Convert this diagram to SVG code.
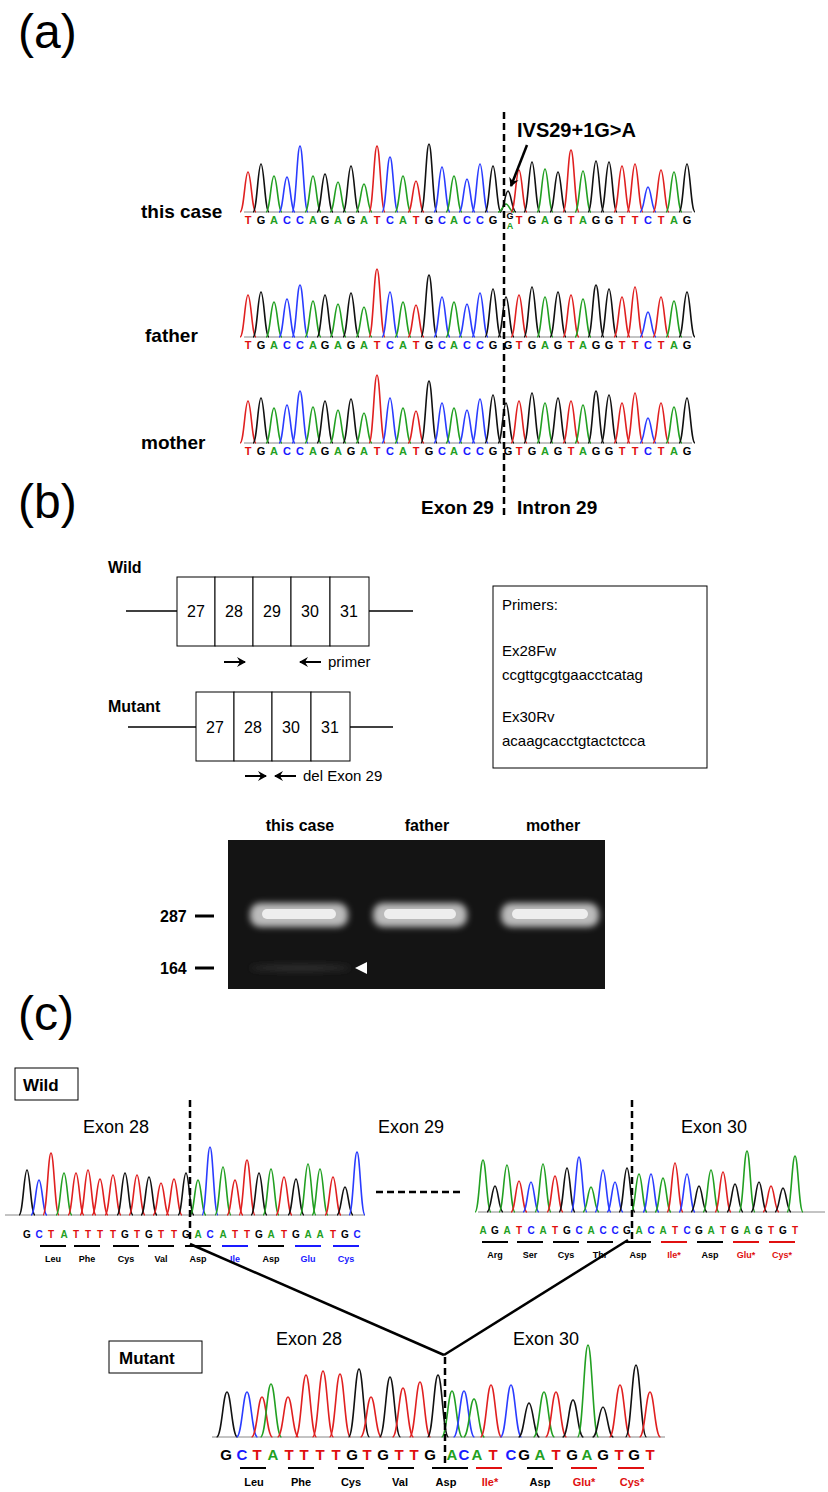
<svg xmlns="http://www.w3.org/2000/svg" xmlns:xlink="http://www.w3.org/1999/xlink" width="828" height="1492" viewBox="0 0 828 1492">
<style>
text{font-family:"Liberation Sans",Arial,sans-serif}
.A{stroke:#22a022}.C{stroke:#2a3cff}.G{stroke:#111}.T{stroke:#e02020}
.pk use{fill:none;stroke-width:1.6}
.tA{fill:#22a022}.tC{fill:#1a1aff}.tG{fill:#000}.tT{fill:#e01010}
.seq{font-size:11px;font-weight:bold;text-anchor:middle}
.seqc{font-size:10px;font-weight:bold;text-anchor:middle}
.seqm{font-size:15px;font-weight:bold;text-anchor:middle}
.aa{font-size:9px;font-weight:bold;text-anchor:middle}
.aam{font-size:11px;font-weight:bold;text-anchor:middle}
.lab{font-size:19px;font-weight:bold}
.pl{font-size:48px}
.ex{font-size:18px}
.bx{fill:#fff;stroke:#000;stroke-width:1}
.dash{stroke:#000;stroke-width:2.5;stroke-dasharray:7 4;fill:none}
.base{stroke:#888;stroke-width:1}
.ulk{stroke:#000;stroke-width:2}.ulb{stroke:#1a1aff;stroke-width:2}.ulr{stroke:#e01010;stroke-width:2}
</style>
<defs>
<path id="p" d="M-8 0 C-4 0 -3 -1 0 -1 C3 -1 4 0 8 0" vector-effect="non-scaling-stroke"/>
<marker id="ah" markerWidth="10" markerHeight="10" refX="8" refY="5" orient="auto" markerUnits="userSpaceOnUse"><path d="M0 0 L9 5 L0 10 L3 5 Z" fill="#000"/></marker>
<g id="par" class="pk">
<use href="#p" class="T" transform="translate(248,0) scale(1,42)"/><use href="#p" class="G" transform="translate(261,0) scale(1,45)"/><use href="#p" class="A" transform="translate(274,0) scale(1,35)"/><use href="#p" class="C" transform="translate(287,0) scale(1,38)"/><use href="#p" class="C" transform="translate(300,0) scale(1,52)"/><use href="#p" class="A" transform="translate(313,0) scale(1,36)"/><use href="#p" class="G" transform="translate(325,0) scale(1,42)"/><use href="#p" class="A" transform="translate(338,0) scale(1,33)"/><use href="#p" class="G" transform="translate(351,0) scale(1,44)"/><use href="#p" class="A" transform="translate(364,0) scale(1,30)"/><use href="#p" class="T" transform="translate(377,0) scale(1,68)"/><use href="#p" class="C" transform="translate(390,0) scale(1,45)"/><use href="#p" class="A" transform="translate(403,0) scale(1,35)"/><use href="#p" class="T" transform="translate(416,0) scale(1,32)"/><use href="#p" class="G" transform="translate(429,0) scale(1,62)"/><use href="#p" class="C" transform="translate(442,0) scale(1,40)"/><use href="#p" class="A" transform="translate(454,0) scale(1,35)"/><use href="#p" class="C" transform="translate(467,0) scale(1,33)"/><use href="#p" class="C" transform="translate(480,0) scale(1,44)"/><use href="#p" class="G" transform="translate(493,0) scale(1,48)"/><use href="#p" class="G" transform="translate(506,0) scale(1,40)"/><use href="#p" class="T" transform="translate(519,0) scale(1,42)"/><use href="#p" class="G" transform="translate(532,0) scale(1,50)"/><use href="#p" class="A" transform="translate(545,0) scale(1,40)"/><use href="#p" class="G" transform="translate(558,0) scale(1,45)"/><use href="#p" class="T" transform="translate(571,0) scale(1,42)"/><use href="#p" class="A" transform="translate(583,0) scale(1,38)"/><use href="#p" class="G" transform="translate(596,0) scale(1,52)"/><use href="#p" class="G" transform="translate(609,0) scale(1,48)"/><use href="#p" class="T" transform="translate(622,0) scale(1,40)"/><use href="#p" class="T" transform="translate(635,0) scale(1,50)"/><use href="#p" class="C" transform="translate(648,0) scale(1,25)"/><use href="#p" class="T" transform="translate(661,0) scale(1,40)"/><use href="#p" class="A" transform="translate(674,0) scale(1,36)"/><use href="#p" class="G" transform="translate(687,0) scale(1,45)"/>
</g>
</defs>

<text x="18" y="48" class="pl">(a)</text>
<text x="18" y="518" class="pl">(b)</text>
<text x="18" y="1030" class="pl">(c)</text>

<g id="a-thiscase">
<text x="141" y="218" class="lab">this case</text>
<line x1="244" y1="212" x2="692" y2="212" class="base"/>
<g class="pk" transform="translate(0,212)">
<use href="#p" class="T" transform="translate(248,0) scale(1,40)"/><use href="#p" class="G" transform="translate(261,0) scale(1,48)"/><use href="#p" class="A" transform="translate(274,0) scale(1,36)"/><use href="#p" class="C" transform="translate(287,0) scale(1,35)"/><use href="#p" class="C" transform="translate(300,0) scale(1,66)"/><use href="#p" class="A" transform="translate(313,0) scale(1,36)"/><use href="#p" class="G" transform="translate(325,0) scale(1,38)"/><use href="#p" class="A" transform="translate(338,0) scale(1,30)"/><use href="#p" class="G" transform="translate(351,0) scale(1,46)"/><use href="#p" class="A" transform="translate(364,0) scale(1,28)"/><use href="#p" class="T" transform="translate(377,0) scale(1,66)"/><use href="#p" class="C" transform="translate(390,0) scale(1,55)"/><use href="#p" class="A" transform="translate(403,0) scale(1,36)"/><use href="#p" class="T" transform="translate(416,0) scale(1,31)"/><use href="#p" class="G" transform="translate(429,0) scale(1,68)"/><use href="#p" class="C" transform="translate(442,0) scale(1,45)"/><use href="#p" class="A" transform="translate(454,0) scale(1,36)"/><use href="#p" class="C" transform="translate(467,0) scale(1,33)"/><use href="#p" class="C" transform="translate(480,0) scale(1,48)"/><use href="#p" class="G" transform="translate(493,0) scale(1,46)"/><use href="#p" class="G" transform="translate(508,0) scale(1,21)"/><use href="#p" class="A" transform="translate(506,0) scale(1,8)"/><use href="#p" class="T" transform="translate(519,0) scale(1,42)"/><use href="#p" class="G" transform="translate(532,0) scale(1,50)"/><use href="#p" class="A" transform="translate(545,0) scale(1,43)"/><use href="#p" class="G" transform="translate(558,0) scale(1,40)"/><use href="#p" class="T" transform="translate(571,0) scale(1,62)"/><use href="#p" class="A" transform="translate(583,0) scale(1,41)"/><use href="#p" class="G" transform="translate(596,0) scale(1,51)"/><use href="#p" class="G" transform="translate(609,0) scale(1,50)"/><use href="#p" class="T" transform="translate(622,0) scale(1,46)"/><use href="#p" class="T" transform="translate(635,0) scale(1,48)"/><use href="#p" class="C" transform="translate(648,0) scale(1,25)"/><use href="#p" class="T" transform="translate(661,0) scale(1,42)"/><use href="#p" class="A" transform="translate(674,0) scale(1,40)"/><use href="#p" class="G" transform="translate(687,0) scale(1,48)"/>
</g>
<text y="224" class="seq"><tspan x="248" class="tT">T</tspan><tspan x="261" class="tG">G</tspan><tspan x="274" class="tA">A</tspan><tspan x="287" class="tC">C</tspan><tspan x="300" class="tC">C</tspan><tspan x="313" class="tA">A</tspan><tspan x="325" class="tG">G</tspan><tspan x="338" class="tA">A</tspan><tspan x="351" class="tG">G</tspan><tspan x="364" class="tA">A</tspan><tspan x="377" class="tT">T</tspan><tspan x="390" class="tC">C</tspan><tspan x="403" class="tA">A</tspan><tspan x="416" class="tT">T</tspan><tspan x="429" class="tG">G</tspan><tspan x="442" class="tC">C</tspan><tspan x="454" class="tA">A</tspan><tspan x="467" class="tC">C</tspan><tspan x="480" class="tC">C</tspan><tspan x="493" class="tG">G</tspan><tspan x="519" class="tT">T</tspan><tspan x="532" class="tG">G</tspan><tspan x="545" class="tA">A</tspan><tspan x="558" class="tG">G</tspan><tspan x="571" class="tT">T</tspan><tspan x="583" class="tA">A</tspan><tspan x="596" class="tG">G</tspan><tspan x="609" class="tG">G</tspan><tspan x="622" class="tT">T</tspan><tspan x="635" class="tT">T</tspan><tspan x="648" class="tC">C</tspan><tspan x="661" class="tT">T</tspan><tspan x="674" class="tA">A</tspan><tspan x="687" class="tG">G</tspan></text>
<text x="510" y="219" class="tG" style="font-size:9px;font-weight:bold;text-anchor:middle">G</text>
<text x="510" y="229" class="tA" style="font-size:9px;font-weight:bold;text-anchor:middle">A</text>
</g>
<g id="a-father">
<text x="145" y="342" class="lab">father</text>
<line x1="244" y1="337" x2="692" y2="337" class="base"/>
<use href="#par" transform="translate(0,337)"/>
<text y="349" class="seq"><tspan x="248" class="tT">T</tspan><tspan x="261" class="tG">G</tspan><tspan x="274" class="tA">A</tspan><tspan x="287" class="tC">C</tspan><tspan x="300" class="tC">C</tspan><tspan x="313" class="tA">A</tspan><tspan x="325" class="tG">G</tspan><tspan x="338" class="tA">A</tspan><tspan x="351" class="tG">G</tspan><tspan x="364" class="tA">A</tspan><tspan x="377" class="tT">T</tspan><tspan x="390" class="tC">C</tspan><tspan x="403" class="tA">A</tspan><tspan x="416" class="tT">T</tspan><tspan x="429" class="tG">G</tspan><tspan x="442" class="tC">C</tspan><tspan x="454" class="tA">A</tspan><tspan x="467" class="tC">C</tspan><tspan x="480" class="tC">C</tspan><tspan x="493" class="tG">G</tspan><tspan x="508" class="tG">G</tspan><tspan x="519" class="tT">T</tspan><tspan x="532" class="tG">G</tspan><tspan x="545" class="tA">A</tspan><tspan x="558" class="tG">G</tspan><tspan x="571" class="tT">T</tspan><tspan x="583" class="tA">A</tspan><tspan x="596" class="tG">G</tspan><tspan x="609" class="tG">G</tspan><tspan x="622" class="tT">T</tspan><tspan x="635" class="tT">T</tspan><tspan x="648" class="tC">C</tspan><tspan x="661" class="tT">T</tspan><tspan x="674" class="tA">A</tspan><tspan x="687" class="tG">G</tspan></text>
</g>
<g id="a-mother">
<text x="141" y="449" class="lab">mother</text>
<line x1="244" y1="443" x2="692" y2="443" class="base"/>
<use href="#par" transform="translate(0,443)"/>
<text y="455" class="seq"><tspan x="248" class="tT">T</tspan><tspan x="261" class="tG">G</tspan><tspan x="274" class="tA">A</tspan><tspan x="287" class="tC">C</tspan><tspan x="300" class="tC">C</tspan><tspan x="313" class="tA">A</tspan><tspan x="325" class="tG">G</tspan><tspan x="338" class="tA">A</tspan><tspan x="351" class="tG">G</tspan><tspan x="364" class="tA">A</tspan><tspan x="377" class="tT">T</tspan><tspan x="390" class="tC">C</tspan><tspan x="403" class="tA">A</tspan><tspan x="416" class="tT">T</tspan><tspan x="429" class="tG">G</tspan><tspan x="442" class="tC">C</tspan><tspan x="454" class="tA">A</tspan><tspan x="467" class="tC">C</tspan><tspan x="480" class="tC">C</tspan><tspan x="493" class="tG">G</tspan><tspan x="508" class="tG">G</tspan><tspan x="519" class="tT">T</tspan><tspan x="532" class="tG">G</tspan><tspan x="545" class="tA">A</tspan><tspan x="558" class="tG">G</tspan><tspan x="571" class="tT">T</tspan><tspan x="583" class="tA">A</tspan><tspan x="596" class="tG">G</tspan><tspan x="609" class="tG">G</tspan><tspan x="622" class="tT">T</tspan><tspan x="635" class="tT">T</tspan><tspan x="648" class="tC">C</tspan><tspan x="661" class="tT">T</tspan><tspan x="674" class="tA">A</tspan><tspan x="687" class="tG">G</tspan></text>
</g>
<g id="a-annot">
<line x1="504" y1="112" x2="504" y2="516" class="dash"/>
<text x="517" y="137" style="font-size:20px;font-weight:bold">IVS29+1G&gt;A</text>
<line x1="527" y1="145" x2="511" y2="186" stroke="#000" stroke-width="2.5" marker-end="url(#ah)"/>
<text x="421" y="514" class="lab">Exon 29</text>
<text x="517" y="514" class="lab">Intron 29</text>
</g>

<g id="b-wild">
<text x="108" y="573" style="font-size:16px;font-weight:bold">Wild</text>
<line x1="126" y1="611" x2="413" y2="611" stroke="#000" stroke-width="1.5"/>
<rect x="177" y="577" width="38" height="69" class="bx"/><rect x="215" y="577" width="38" height="69" class="bx"/><rect x="253" y="577" width="38" height="69" class="bx"/><rect x="291" y="577" width="39" height="69" class="bx"/><rect x="330" y="577" width="39" height="69" class="bx"/>
<g style="font-size:16px;text-anchor:middle"><text x="196" y="617">27</text><text x="234" y="617">28</text><text x="272" y="617">29</text><text x="310" y="617">30</text><text x="349" y="617">31</text></g>
<line x1="224" y1="662" x2="245" y2="662" stroke="#000" stroke-width="2" marker-end="url(#ah)"/>
<line x1="321" y1="662" x2="300" y2="662" stroke="#000" stroke-width="2" marker-end="url(#ah)"/>
<text x="328" y="667" style="font-size:15px">primer</text>
</g>
<g id="b-mutant">
<text x="108" y="712" style="font-size:16px;font-weight:bold">Mutant</text>
<line x1="128" y1="727" x2="393" y2="727" stroke="#000" stroke-width="1.5"/>
<rect x="196" y="692" width="38" height="69" class="bx"/><rect x="234" y="692" width="38" height="69" class="bx"/><rect x="272" y="692" width="39" height="69" class="bx"/><rect x="311" y="692" width="39" height="69" class="bx"/>
<g style="font-size:16px;text-anchor:middle"><text x="215" y="733">27</text><text x="253" y="733">28</text><text x="291" y="733">30</text><text x="330" y="733">31</text></g>
<line x1="245" y1="776" x2="266" y2="776" stroke="#000" stroke-width="2" marker-end="url(#ah)"/>
<line x1="296" y1="776" x2="275" y2="776" stroke="#000" stroke-width="2" marker-end="url(#ah)"/>
<text x="303" y="781" style="font-size:15px">del Exon 29</text>
</g>
<g id="b-primers">
<rect x="493" y="586" width="214" height="182" class="bx"/>
<g style="font-size:15px"><text x="502" y="610">Primers:</text><text x="502" y="656">Ex28Fw</text><text x="502" y="680">ccgttgcgtgaacctcatag</text><text x="502" y="722">Ex30Rv</text><text x="502" y="746">acaagcacctgtactctcca</text></g>
</g>
<g id="b-gel">
<defs><filter id="bl" x="-20%" y="-80%" width="140%" height="260%"><feGaussianBlur stdDeviation="3"/></filter></defs>
<rect x="228" y="840" width="377" height="149" fill="#141414"/>
<g filter="url(#bl)"><rect x="250" y="903" width="98" height="24" rx="10" fill="#bbb"/><rect x="373" y="903" width="94" height="24" rx="10" fill="#bbb"/><rect x="501" y="903" width="98" height="24" rx="10" fill="#bbb"/></g>
<g fill="#eee"><rect x="262" y="909" width="74" height="10" rx="5"/><rect x="384" y="909" width="72" height="10" rx="5"/><rect x="512" y="909" width="76" height="10" rx="5"/></g>
<ellipse cx="300" cy="968" rx="50" ry="3" fill="#333" filter="url(#bl)"/>
<path d="M355 968 L367 962 L367 974 Z" fill="#fff"/>
<g style="font-size:16px;font-weight:bold;text-anchor:middle"><text x="300" y="831">this case</text><text x="427" y="831">father</text><text x="553" y="831">mother</text></g>
<g style="font-size:16px;font-weight:bold"><text x="160" y="922">287</text><text x="160" y="974">164</text></g>
<line x1="195" y1="916" x2="214" y2="916" stroke="#000" stroke-width="3"/>
<line x1="195" y1="968" x2="214" y2="968" stroke="#000" stroke-width="3"/>
</g>

<g id="c-wildlabel"><rect x="15" y="1068" width="63" height="32" class="bx"/><text x="23" y="1091" style="font-size:17px;font-weight:bold">Wild</text></g>
<g id="c-exonlabels"><text x="83" y="1133" class="ex">Exon 28</text><text x="378" y="1133" class="ex">Exon 29</text><text x="681" y="1133" class="ex">Exon 30</text></g>
<g id="c-wildleft">
<line x1="5" y1="1215" x2="365" y2="1215" class="base"/>
<g class="pk" transform="translate(0,1215)">
<use href="#p" class="G" transform="translate(27,0) scale(1,45)"/><use href="#p" class="C" transform="translate(39,0) scale(1,35)"/><use href="#p" class="T" transform="translate(51,0) scale(1,62)"/><use href="#p" class="A" transform="translate(64,0) scale(1,42)"/><use href="#p" class="T" transform="translate(76,0) scale(1,42)"/><use href="#p" class="T" transform="translate(88,0) scale(1,45)"/><use href="#p" class="T" transform="translate(100,0) scale(1,36)"/><use href="#p" class="T" transform="translate(113,0) scale(1,40)"/><use href="#p" class="G" transform="translate(125,0) scale(1,42)"/><use href="#p" class="T" transform="translate(137,0) scale(1,40)"/><use href="#p" class="G" transform="translate(149,0) scale(1,38)"/><use href="#p" class="T" transform="translate(161,0) scale(1,32)"/><use href="#p" class="T" transform="translate(174,0) scale(1,36)"/><use href="#p" class="G" transform="translate(186,0) scale(1,42)"/><use href="#p" class="A" transform="translate(198,0) scale(1,35)"/><use href="#p" class="C" transform="translate(210,0) scale(1,68)"/><use href="#p" class="A" transform="translate(223,0) scale(1,48)"/><use href="#p" class="T" transform="translate(235,0) scale(1,35)"/><use href="#p" class="T" transform="translate(247,0) scale(1,55)"/><use href="#p" class="G" transform="translate(259,0) scale(1,42)"/><use href="#p" class="A" transform="translate(271,0) scale(1,46)"/><use href="#p" class="T" transform="translate(284,0) scale(1,38)"/><use href="#p" class="G" transform="translate(296,0) scale(1,36)"/><use href="#p" class="A" transform="translate(308,0) scale(1,51)"/><use href="#p" class="A" transform="translate(320,0) scale(1,46)"/><use href="#p" class="T" transform="translate(333,0) scale(1,38)"/><use href="#p" class="G" transform="translate(345,0) scale(1,28)"/><use href="#p" class="C" transform="translate(357,0) scale(1,63)"/>
</g>
<text y="1238" class="seqc"><tspan x="27" class="tG">G</tspan><tspan x="39" class="tC">C</tspan><tspan x="51" class="tT">T</tspan><tspan x="64" class="tA">A</tspan><tspan x="76" class="tT">T</tspan><tspan x="88" class="tT">T</tspan><tspan x="100" class="tT">T</tspan><tspan x="113" class="tT">T</tspan><tspan x="125" class="tG">G</tspan><tspan x="137" class="tT">T</tspan><tspan x="149" class="tG">G</tspan><tspan x="161" class="tT">T</tspan><tspan x="174" class="tT">T</tspan><tspan x="186" class="tG">G</tspan><tspan x="198" class="tA">A</tspan><tspan x="210" class="tC">C</tspan><tspan x="223" class="tA">A</tspan><tspan x="235" class="tT">T</tspan><tspan x="247" class="tT">T</tspan><tspan x="259" class="tG">G</tspan><tspan x="271" class="tA">A</tspan><tspan x="284" class="tT">T</tspan><tspan x="296" class="tG">G</tspan><tspan x="308" class="tA">A</tspan><tspan x="320" class="tA">A</tspan><tspan x="333" class="tT">T</tspan><tspan x="345" class="tG">G</tspan><tspan x="357" class="tC">C</tspan></text>
<line x1="40" y1="1246" x2="66" y2="1246" class="ulk"/><line x1="74" y1="1246" x2="100" y2="1246" class="ulk"/><line x1="113" y1="1246" x2="139" y2="1246" class="ulk"/><line x1="148" y1="1246" x2="174" y2="1246" class="ulk"/><line x1="185" y1="1246" x2="211" y2="1246" class="ulk"/><line x1="222" y1="1246" x2="248" y2="1246" class="ulb"/><line x1="258" y1="1246" x2="284" y2="1246" class="ulk"/><line x1="295" y1="1246" x2="321" y2="1246" class="ulb"/><line x1="333" y1="1246" x2="359" y2="1246" class="ulb"/>
<text y="1262" class="aa"><tspan x="53" class="tG">Leu</tspan><tspan x="87" class="tG">Phe</tspan><tspan x="126" class="tG">Cys</tspan><tspan x="161" class="tG">Val</tspan><tspan x="198" class="tG">Asp</tspan><tspan x="235" class="tC">Ile</tspan><tspan x="271" class="tG">Asp</tspan><tspan x="308" class="tC">Glu</tspan><tspan x="346" class="tC">Cys</tspan></text>
<line x1="190" y1="1100" x2="190" y2="1242" class="dash"/>
</g>
<line x1="376" y1="1192" x2="460" y2="1192" class="dash" id="c-gap"/>
<g id="c-wildright">
<line x1="478" y1="1212" x2="825" y2="1212" class="base"/>
<g class="pk" transform="translate(0,1212)">
<use href="#p" class="A" transform="translate(483,0) scale(1,52)"/><use href="#p" class="G" transform="translate(495,0) scale(1,26)"/><use href="#p" class="A" transform="translate(507,0) scale(1,47)"/><use href="#p" class="T" transform="translate(519,0) scale(1,31)"/><use href="#p" class="C" transform="translate(531,0) scale(1,30)"/><use href="#p" class="A" transform="translate(543,0) scale(1,48)"/><use href="#p" class="T" transform="translate(555,0) scale(1,36)"/><use href="#p" class="G" transform="translate(567,0) scale(1,44)"/><use href="#p" class="C" transform="translate(579,0) scale(1,55)"/><use href="#p" class="A" transform="translate(591,0) scale(1,25)"/><use href="#p" class="C" transform="translate(603,0) scale(1,42)"/><use href="#p" class="C" transform="translate(615,0) scale(1,30)"/><use href="#p" class="G" transform="translate(627,0) scale(1,44)"/><use href="#p" class="A" transform="translate(639,0) scale(1,38)"/><use href="#p" class="C" transform="translate(651,0) scale(1,38)"/><use href="#p" class="A" transform="translate(663,0) scale(1,34)"/><use href="#p" class="T" transform="translate(675,0) scale(1,49)"/><use href="#p" class="C" transform="translate(687,0) scale(1,38)"/><use href="#p" class="G" transform="translate(699,0) scale(1,26)"/><use href="#p" class="A" transform="translate(711,0) scale(1,42)"/><use href="#p" class="T" transform="translate(723,0) scale(1,40)"/><use href="#p" class="G" transform="translate(735,0) scale(1,28)"/><use href="#p" class="A" transform="translate(747,0) scale(1,61)"/><use href="#p" class="G" transform="translate(759,0) scale(1,30)"/><use href="#p" class="T" transform="translate(771,0) scale(1,26)"/><use href="#p" class="G" transform="translate(783,0) scale(1,24)"/><use href="#p" class="A" transform="translate(795,0) scale(1,56)"/>
</g>
<text y="1234" class="seqc"><tspan x="483" class="tA">A</tspan><tspan x="495" class="tG">G</tspan><tspan x="507" class="tA">A</tspan><tspan x="519" class="tT">T</tspan><tspan x="531" class="tC">C</tspan><tspan x="543" class="tA">A</tspan><tspan x="555" class="tT">T</tspan><tspan x="567" class="tG">G</tspan><tspan x="579" class="tC">C</tspan><tspan x="591" class="tA">A</tspan><tspan x="603" class="tC">C</tspan><tspan x="615" class="tC">C</tspan><tspan x="627" class="tG">G</tspan><tspan x="639" class="tA">A</tspan><tspan x="651" class="tC">C</tspan><tspan x="663" class="tA">A</tspan><tspan x="675" class="tT">T</tspan><tspan x="687" class="tC">C</tspan><tspan x="699" class="tG">G</tspan><tspan x="711" class="tA">A</tspan><tspan x="723" class="tT">T</tspan><tspan x="735" class="tG">G</tspan><tspan x="747" class="tA">A</tspan><tspan x="759" class="tG">G</tspan><tspan x="771" class="tT">T</tspan><tspan x="783" class="tG">G</tspan><tspan x="795" class="tT">T</tspan></text>
<line x1="482" y1="1242" x2="508" y2="1242" class="ulk"/><line x1="517" y1="1242" x2="543" y2="1242" class="ulk"/><line x1="553" y1="1242" x2="579" y2="1242" class="ulk"/><line x1="587" y1="1242" x2="613" y2="1242" class="ulk"/><line x1="625" y1="1242" x2="651" y2="1242" class="ulk"/><line x1="661" y1="1242" x2="687" y2="1242" class="ulr"/><line x1="697" y1="1242" x2="723" y2="1242" class="ulk"/><line x1="733" y1="1242" x2="759" y2="1242" class="ulr"/><line x1="769" y1="1242" x2="795" y2="1242" class="ulr"/>
<text y="1258" class="aa"><tspan x="495" class="tG">Arg</tspan><tspan x="530" class="tG">Ser</tspan><tspan x="566" class="tG">Cys</tspan><tspan x="600" class="tG">Thr</tspan><tspan x="638" class="tG">Asp</tspan><tspan x="674" class="tT">Ile*</tspan><tspan x="710" class="tG">Asp</tspan><tspan x="746" class="tT">Glu*</tspan><tspan x="782" class="tT">Cys*</tspan></text>
<line x1="632" y1="1100" x2="632" y2="1240" class="dash"/>
</g>
<g id="connectors" fill="none" stroke="#000" stroke-width="2.5">
<line x1="190" y1="1244" x2="444" y2="1355"/>
<line x1="628" y1="1240" x2="444" y2="1355"/>
</g>
<g id="c-mutant">
<rect x="109" y="1341" width="93" height="32" class="bx"/><text x="119" y="1364" style="font-size:17px;font-weight:bold">Mutant</text>
<text x="276" y="1345" class="ex">Exon 28</text><text x="513" y="1345" class="ex">Exon 30</text>
<line x1="212" y1="1437" x2="665" y2="1437" class="base"/>
<g class="pk" transform="translate(0,1437)">
<use href="#p" class="G" transform="translate(227,0) scale(1.3,45)"/><use href="#p" class="C" transform="translate(247,0) scale(1.3,45)"/><use href="#p" class="T" transform="translate(262,0) scale(1.3,40)"/><use href="#p" class="A" transform="translate(271,0) scale(1.3,53)"/><use href="#p" class="T" transform="translate(288,0) scale(1.3,40)"/><use href="#p" class="T" transform="translate(306,0) scale(1.3,62)"/><use href="#p" class="T" transform="translate(323,0) scale(1.3,66)"/><use href="#p" class="T" transform="translate(340,0) scale(1.3,63)"/><use href="#p" class="G" transform="translate(359,0) scale(1.3,68)"/><use href="#p" class="T" transform="translate(371,0) scale(1.3,40)"/><use href="#p" class="G" transform="translate(390,0) scale(1.3,60)"/><use href="#p" class="T" transform="translate(403,0) scale(1.3,49)"/><use href="#p" class="T" transform="translate(420,0) scale(1.3,55)"/><use href="#p" class="G" transform="translate(438,0) scale(1.3,62)"/><use href="#p" class="A" transform="translate(452,0) scale(1.3,46)"/><use href="#p" class="C" transform="translate(464,0) scale(1.3,46)"/><use href="#p" class="A" transform="translate(474,0) scale(1.3,38)"/><use href="#p" class="T" transform="translate(491,0) scale(1.3,52)"/><use href="#p" class="C" transform="translate(511,0) scale(1.3,52)"/><use href="#p" class="G" transform="translate(529,0) scale(1.3,34)"/><use href="#p" class="A" transform="translate(544,0) scale(1.3,45)"/><use href="#p" class="T" transform="translate(556,0) scale(1.3,45)"/><use href="#p" class="G" transform="translate(573,0) scale(1.3,37)"/><use href="#p" class="A" transform="translate(588,0) scale(1.3,92)"/><use href="#p" class="G" transform="translate(603,0) scale(1.3,30)"/><use href="#p" class="T" transform="translate(620,0) scale(1.3,52)"/><use href="#p" class="G" transform="translate(636,0) scale(1.3,72)"/><use href="#p" class="T" transform="translate(650,0) scale(1.3,45)"/>
</g>
<text y="1460" class="seqm"><tspan x="226" class="tG">G</tspan><tspan x="242" class="tC">C</tspan><tspan x="257" class="tT">T</tspan><tspan x="273" class="tA">A</tspan><tspan x="289" class="tT">T</tspan><tspan x="304" class="tT">T</tspan><tspan x="320" class="tT">T</tspan><tspan x="336" class="tT">T</tspan><tspan x="352" class="tG">G</tspan><tspan x="367" class="tT">T</tspan><tspan x="383" class="tG">G</tspan><tspan x="399" class="tT">T</tspan><tspan x="414" class="tT">T</tspan><tspan x="430" class="tG">G</tspan><tspan x="452" class="tA">A</tspan><tspan x="464" class="tC">C</tspan><tspan x="477" class="tA">A</tspan><tspan x="493" class="tT">T</tspan><tspan x="511" class="tC">C</tspan><tspan x="524" class="tG">G</tspan><tspan x="540" class="tA">A</tspan><tspan x="556" class="tT">T</tspan><tspan x="572" class="tG">G</tspan><tspan x="587" class="tA">A</tspan><tspan x="603" class="tG">G</tspan><tspan x="619" class="tT">T</tspan><tspan x="634" class="tG">G</tspan><tspan x="650" class="tT">T</tspan></text>
<line x1="240" y1="1468" x2="266" y2="1468" class="ulk"/><line x1="288" y1="1468" x2="314" y2="1468" class="ulk"/><line x1="338" y1="1468" x2="364" y2="1468" class="ulk"/><line x1="388" y1="1468" x2="414" y2="1468" class="ulk"/><line x1="432" y1="1468" x2="468" y2="1468" class="ulk"/><line x1="476" y1="1468" x2="502" y2="1468" class="ulr"/><line x1="527" y1="1468" x2="553" y2="1468" class="ulk"/><line x1="571" y1="1468" x2="597" y2="1468" class="ulr"/><line x1="618" y1="1468" x2="644" y2="1468" class="ulr"/>
<text y="1486" class="aam"><tspan x="254" class="tG">Leu</tspan><tspan x="301" class="tG">Phe</tspan><tspan x="351" class="tG">Cys</tspan><tspan x="400" class="tG">Val</tspan><tspan x="446" class="tG">Asp</tspan><tspan x="490" class="tT">Ile*</tspan><tspan x="540" class="tG">Asp</tspan><tspan x="584" class="tT">Glu*</tspan><tspan x="632" class="tT">Cys*</tspan></text>
<line x1="445" y1="1357" x2="445" y2="1466" class="dash"/>
</g>
</svg>
